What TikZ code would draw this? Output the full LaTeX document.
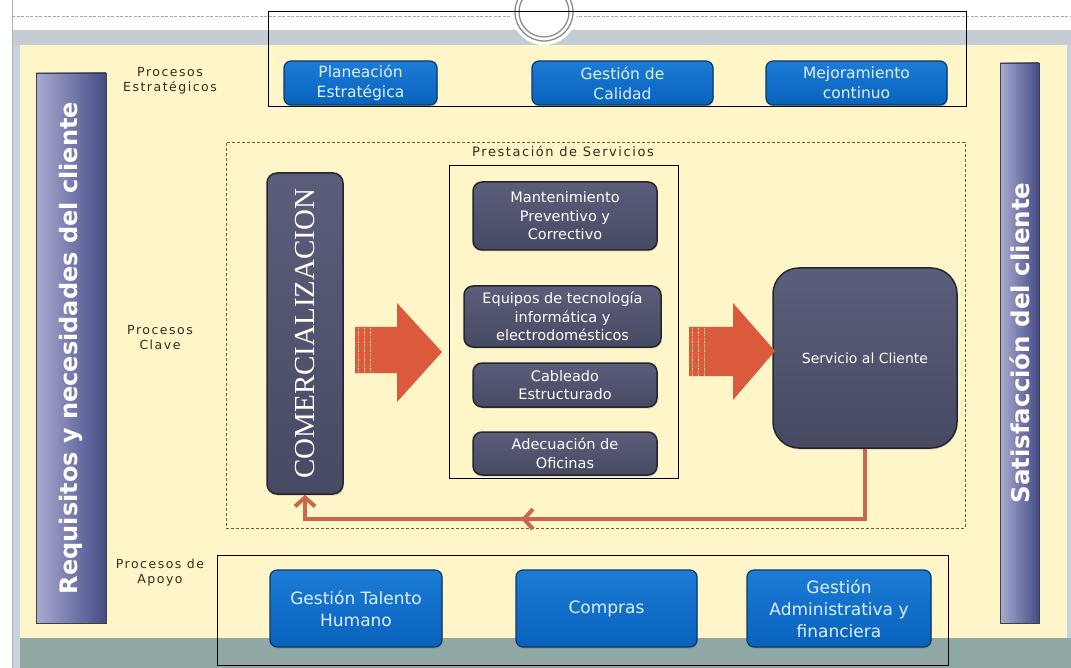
\documentclass[tikz,border=0pt]{standalone}
\usepackage{fontspec}
\setmainfont{DejaVu Sans}
\newfontfamily\capsserif{Liberation Serif}
\usetikzlibrary{arrows.meta,shadows,decorations.markings}

\definecolor{cream}{HTML}{FEF6C8}
\definecolor{bandgray}{HTML}{C5CCD4}
\definecolor{stripgray}{HTML}{C8D3DC}
\definecolor{footteal}{HTML}{8FA8A6}
\definecolor{btntop}{HTML}{1C7CD6}
\definecolor{btnbot}{HTML}{0862BC}
\definecolor{btnedge}{HTML}{0B3766}
\definecolor{btntext}{HTML}{DDF0FF}
\definecolor{slatetop}{HTML}{5A5E7A}
\definecolor{slatebot}{HTML}{464A62}
\definecolor{slateedge}{HTML}{24252E}
\definecolor{barlight}{HTML}{A9ABD0}
\definecolor{bardark}{HTML}{454B87}
\definecolor{arrowred}{HTML}{DC5A3C}
\definecolor{loopred}{HTML}{C9664B}
\definecolor{labelbrown}{HTML}{3C281E}
\definecolor{framebrown}{HTML}{7A5A3A}

\begin{document}
\begin{tikzpicture}[x=1pt,y=-1pt,
  bluebtn/.style={draw=btnedge, line width=1.2pt, rounded corners=7pt,
    top color=btntop, bottom color=btnbot, text=btntext, align=center,
    inner sep=0pt, drop shadow={shadow xshift=0.8pt, shadow yshift=-1.5pt, opacity=0.35}},
  topbtn/.style={bluebtn, minimum height=44pt, font=\fontsize{15.5}{20}\selectfont},
  lowbtn/.style={bluebtn, minimum height=77pt, font=\fontsize{17}{22}\selectfont},
  slate/.style={draw=slateedge, line width=1.5pt, rounded corners=9pt,
    top color=slatetop, bottom color=slatebot, text=white, align=center,
    inner sep=0pt, drop shadow={shadow xshift=0.8pt, shadow yshift=-1.5pt, opacity=0.3},
    font=\fontsize{14.5}{18.5}\selectfont},
  sidebar/.style={draw=black!75, line width=0.9pt, left color=barlight, right color=bardark,
    text=white, inner sep=0pt, font=\bfseries},
  framebox/.style={draw=black, line width=1pt, inner sep=0pt},
  rowlabel/.style={text=labelbrown, align=center,
    font=\fontsize{12.5}{15}\selectfont\addfontfeature{LetterSpace=12}},
  blockarrow/.style={fill=arrowred},
  tailstripe/.style={draw=cream!80!arrowred, line width=0.8pt, densely dotted},
  feedback/.style={draw=loopred, line width=4pt}
]
\useasboundingbox (0,0) rectangle (1071,668);

% page background, header band, side strips and footer
\fill[white] (0,0) rectangle (1071,668);
\fill[stripgray] (12,30) rectangle (1071,668);
\fill[bandgray] (12,30) rectangle (1071,45);
\fill[cream] (20,45) rectangle (1067,638);
\fill[footteal] (20,638) rectangle (1071,668);
\draw[black!30] (12,0) -- (12,668);
\draw[black!35, dash pattern=on 3pt off 1.5pt] (12,16) -- (1071,16);

% ring at the top edge
\fill[white] (544,12) circle (33);
\draw[black!45, line width=1.3pt] (544,12) circle (29);
\draw[black!45, line width=1.3pt] (544,12) circle (25);

% group frames
\node[framebox, minimum width=698pt, minimum height=95pt] (strat) at (617,59.5) {};
\node[draw=framebrown, densely dashed, line width=0.6pt, inner sep=0pt,
      minimum width=739pt, minimum height=386pt] (keyzone) at (595.5,335) {};
\node[framebox, minimum width=229pt, minimum height=312pt] (services) at (563.5,322) {};
\node[framebox, minimum width=731pt, minimum height=110pt] (support) at (582.5,610) {};

% side bars
\node[sidebar, minimum width=70pt, minimum height=550pt] (req) at (71,348)
  {\rotatebox{90}{\fontsize{24}{24}\selectfont Requisitos y necesidades del cliente}};
\node[sidebar, minimum width=39pt, minimum height=560pt] (sat) at (1019.5,343)
  {\rotatebox{90}{\fontsize{24.5}{24.5}\selectfont Satisfacción del cliente}};

% row labels
\node[rowlabel] (lstrat) at (170,81) {Procesos\\Estratégicos};
\node[rowlabel] (lkey) at (160,338) {Procesos\\Clave};
\node[rowlabel] (lsup) at (160,573) {Procesos de\\Apoyo};
\node[rowlabel, font=\fontsize{13}{15}\selectfont\addfontfeature{LetterSpace=12}] (lserv) at (563,151) {Prestación de Servicios};

% strategic processes
\node[topbtn, minimum width=153pt] (plan) at (360.5,83) {Planeación\\Estratégica};
\node[topbtn, minimum width=181pt] (calidad) at (622.5,83) {Gestión de\\Calidad};
\node[topbtn, minimum width=181pt] (mejora) at (856.5,83) {Mejoramiento\\continuo};

% key processes
\node[slate, minimum width=76pt, minimum height=321pt, rounded corners=10pt] (comer) at (305,333.5)
  {\rotatebox{90}{\capsserif\fontsize{29}{29}\selectfont COMERCIALIZACION}};
\node[slate, minimum width=184pt, minimum height=68pt] (mant) at (565,216) {Mantenimiento\\Preventivo y\\Correctivo};
\node[slate, minimum width=197pt, minimum height=61pt] (equipos) at (562.5,316.5) {Equipos de tecnología\\informática y\\electrodomésticos};
\node[slate, minimum width=184pt, minimum height=44pt] (cableado) at (565,385) {Cableado\\Estructurado};
\node[slate, minimum width=184pt, minimum height=43pt] (adec) at (565,453.5) {Adecuación de\\Oficinas};
\node[slate, minimum width=184pt, minimum height=180pt, rounded corners=26pt,
      font=\fontsize{14}{17}\selectfont] (serv) at (865,358) {Servicio al Cliente};

% support processes
\node[lowbtn, minimum width=172pt] (talento) at (356,608.5) {Gestión Talento\\Humano};
\node[lowbtn, minimum width=181pt] (compras) at (606.5,608.5) {Compras};
\node[lowbtn, minimum width=184pt] (admin) at (839,608.5) {Gestión\\Administrativa y\\financiera};

% block arrows between the stages
\fill[blockarrow] (355,327) -- (397,327) -- (397,303) -- (442,352) -- (397,402) -- (397,373) -- (355,373) -- cycle;
\foreach \sx in {358,364,370}
  \draw[tailstripe] (\sx,328) -- (\sx,372);
\fill[blockarrow] (689,327) -- (733,327) -- (733,303) -- (775,351) -- (733,400) -- (733,376) -- (689,376) -- cycle;
\foreach \sx in {692,698,704}
  \draw[tailstripe] (\sx,328) -- (\sx,375);

% feedback loop from customer service back to sales
\coordinate (fbturn) at (comer.south |- 0,519);
\draw[feedback, -{Straight Barb[length=9pt,width=20pt]},
  postaction={decorate, decoration={markings,
    mark=at position 414pt with {\arrow{Straight Barb[length=9pt,width=20pt]}}}}]
  (serv.south) |- (fbturn) -- (comer.south);
\end{tikzpicture}
\end{document}
